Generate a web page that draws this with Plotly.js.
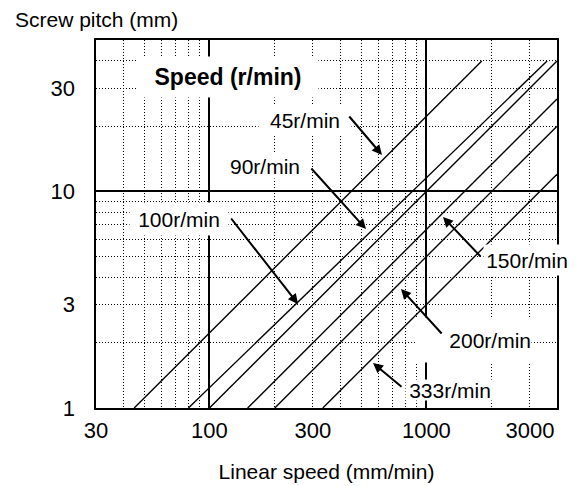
<!DOCTYPE html>
<html>
<head>
<meta charset="utf-8">
<script src="https://cdn.plot.ly/plotly-3.0.1.min.js"></script>
<style>
  html, body { margin: 0; padding: 0; background: #fff; }
  #chart { width: 575px; height: 486px; }
</style>
</head>
<body>
<div id="chart"></div>
<script>
// ---- data ----
const rpmLabels   = ['45r/min', '90r/min', '100r/min', '150r/min', '200r/min', '333r/min'];
const startSpeed  = [45, 80, 100, 150, 200, 333];      // mm/min where the line meets pitch = 1 mm
const startPitch  = [1, 1, 1, 1, 1, 1];
const endSpeed    = [1800, 3600, 4000, 4000, 4000, 4000];
const endPitch    = [40, 40, 40, 26.7, 20, 12];

const xTickVals   = [30, 100, 300, 1000, 3000];
const xTickText   = ['30', '100', '300', '1000', '3000'];
const yTickVals   = [1, 3, 10, 30];
const yTickText   = ['1', '3', '10', '30'];
const xMajorGrid  = [100, 1000];
const xMinorGrid  = [40, 50, 60, 70, 80, 90, 200, 300, 400, 500, 600, 700, 800, 900, 2000, 3000];
const yMajorGrid  = [10];
const yMinorGrid  = [2, 3, 4, 5, 6, 7, 8, 9, 20, 30, 40];
const xRange      = [30, 4000];
const yRange      = [1, 50];

// ---- traces ----
const traces = rpmLabels.map((name, i) => ({
  type: 'scatter',
  mode: 'lines',
  name: name,
  x: [startSpeed[i], endSpeed[i]],
  y: [startPitch[i], endPitch[i]],
  line: { color: '#000', width: 1.4 },
  hoverinfo: 'skip',
  showlegend: false
}));
// invisible carrier so the labelled overlay axes are drawn
traces.push({
  type: 'scatter', mode: 'markers', x: startSpeed, y: startPitch,
  xaxis: 'x2', yaxis: 'y2', marker: { opacity: 0, size: 1 },
  hoverinfo: 'skip', showlegend: false
});

const FONT = 'Liberation Sans, Arial, Helvetica, sans-serif';
const dotted = { showgrid: true, gridcolor: '#000', gridwidth: 1, griddash: '1px,2px', ticks: '', tickmode: 'array' };

const layout = {
  width: 575, height: 486,
  margin: { l: 96, r: 18, t: 40, b: 78 },
  paper_bgcolor: '#fff', plot_bgcolor: '#fff',
  font: { family: FONT, size: 21, color: '#000' },
  showlegend: false,
  xaxis: {
    type: 'log', range: xRange.map(Math.log10), fixedrange: true,
    tickmode: 'array', tickvals: xMajorGrid, showticklabels: false, ticks: '',
    showgrid: true, gridcolor: '#000', gridwidth: 2,
    minor: Object.assign({ tickvals: xMinorGrid }, dotted),
    showline: true, linecolor: '#000', linewidth: 2, mirror: true, zeroline: false
  },
  yaxis: {
    type: 'log', range: yRange.map(Math.log10), fixedrange: true,
    tickmode: 'array', tickvals: yMajorGrid, showticklabels: false, ticks: '',
    showgrid: true, gridcolor: '#000', gridwidth: 2,
    minor: Object.assign({ tickvals: yMinorGrid }, dotted),
    showline: true, linecolor: '#000', linewidth: 2, mirror: true, zeroline: false
  },
  xaxis2: {
    type: 'log', range: xRange.map(Math.log10), fixedrange: true,
    overlaying: 'x', anchor: 'y2', side: 'bottom',
    tickmode: 'array', tickvals: xTickVals, ticktext: xTickText, ticks: '',
    ticklabelstandoff: 7,
    tickfont: { family: FONT, size: 22, color: '#000' },
    showgrid: false, showline: false, zeroline: false,
    title: { text: 'Linear speed (mm/min)', font: { family: FONT, size: 21, color: '#000' }, standoff: 22 }
  },
  yaxis2: {
    type: 'log', range: yRange.map(Math.log10), fixedrange: true,
    overlaying: 'y', anchor: 'x2', side: 'left',
    tickmode: 'array', tickvals: yTickVals, ticktext: yTickText, ticks: '',
    ticklabelstandoff: 20,
    tickfont: { family: FONT, size: 22, color: '#000' },
    showgrid: false, showline: false, zeroline: false
  },
  annotations: []
};

// titles and labels
const ann = layout.annotations;
ann.push({ xref: 'paper', yref: 'paper', x: -0.18, y: 1.057, xanchor: 'left', yanchor: 'middle',
  text: 'Screw pitch (mm)', showarrow: false, font: { family: FONT, size: 21, color: '#000' } });
ann.push({ xref: 'paper', yref: 'paper', x: 0.2863, y: 0.8995, xanchor: 'center', yanchor: 'middle',
  text: '<b>Speed (r/min)</b>', showarrow: false, bgcolor: '#fff', width: 180, height: 40, borderpad: 0,
  font: { family: FONT, size: 23, color: '#000' } });

// label boxes: [paperX, paperY, boxW, boxH, align]
const labelBoxes = [
  [0.4544, 0.7813, 92, 28, 'center'],
  [0.3666, 0.6563, 80, 24, 'center'],
  [0.1800, 0.5149, 98, 32, 'center'],
  [0.9349, 0.4022, 86, 30, 'center'],
  [0.8189, 0.1848, 115, 44, 'right'],
  [0.7679, 0.0476, 88, 20, 'center']
];
// arrows: [tipPaperX, tipPaperY, ax, ay]
const arrows = [
  [0.6204, 0.6875, -34, -40],
  [0.5857, 0.4864, -56, -62],
  [0.4382, 0.2826, -68, -87],
  [0.7527, 0.5190, 39, 41],
  [0.6616, 0.3234, 42, 46],
  [0.6009, 0.1223, 30, 25]
];
rpmLabels.forEach((t, i) => {
  const b = labelBoxes[i];
  ann.push({ xref: 'paper', yref: 'paper', x: b[0], y: b[1], xanchor: 'center', yanchor: 'middle',
    text: t, showarrow: false, bgcolor: '#fff', width: b[2], height: b[3], align: b[4], borderpad: 0,
    font: { family: FONT, size: 21, color: '#000' } });
});
rpmLabels.forEach((t, i) => {
  const a = arrows[i];
  ann.push({ xref: 'paper', yref: 'paper', x: a[0], y: a[1], ax: a[2], ay: a[3],
    text: '', showarrow: true, arrowhead: 2, arrowsize: 1, arrowwidth: 2, arrowcolor: '#000', standoff: 0 });
});

Plotly.newPlot('chart', traces, layout, { staticPlot: true, displayModeBar: false });
</script>
</body>
</html>
